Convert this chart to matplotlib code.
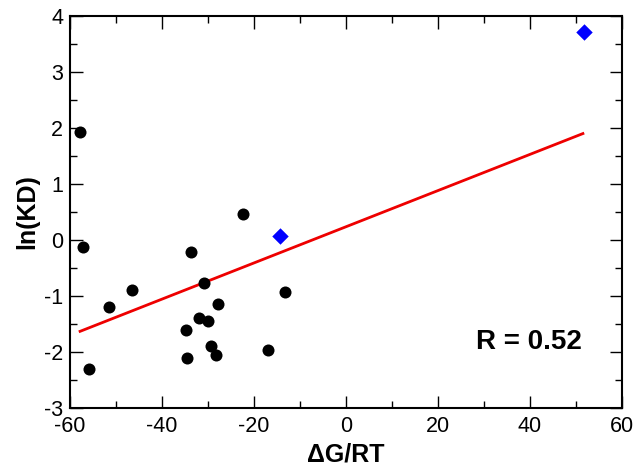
import matplotlib
matplotlib.use("Agg")
import matplotlib.pyplot as plt
from matplotlib.ticker import MultipleLocator

plt.rcParams['font.family'] = ['Liberation Sans', 'DejaVu Sans']
plt.rcParams['axes.unicode_minus'] = False

# black circles
circ_x = [-57.8, -57.2, -55.9, -51.5, -46.5, -33.7, -30.9, -34.8, -34.6, -32.0, -30.0, -27.8, -29.3, -28.3, -22.4, -17.0, -13.3]
circ_y = [1.92, -0.12, -2.3, -1.2, -0.9, -0.22, -0.77, -1.6, -2.1, -1.4, -1.45, -1.15, -1.9, -2.05, 0.47, -1.97, -0.92]
# blue diamonds
dia_x = [-14.3, 51.7]
dia_y = [0.07, 3.72]
# fit line
line_x = [-57.8, 51.5]
line_y = [-1.63, 1.9]

fig = plt.figure(figsize=(6.36, 4.68), dpi=100)
ax = fig.add_axes([0.110, 0.128, 0.868, 0.838])

ax.plot(line_x, line_y, color='#ee0000', lw=2, zorder=2)
ax.scatter(circ_x, circ_y, s=75, color='black', zorder=3, linewidths=0)
ax.scatter(dia_x, dia_y, s=70, marker='D', color='#0000ff', zorder=3, linewidths=0)

ax.set_xlim(-60, 60)
ax.set_ylim(-3, 4)
ax.xaxis.set_major_locator(MultipleLocator(20))
ax.xaxis.set_minor_locator(MultipleLocator(10))
ax.yaxis.set_major_locator(MultipleLocator(1))
ax.yaxis.set_minor_locator(MultipleLocator(0.5))
ax.tick_params(which='both', direction='in', top=True, right=True, labelsize=15.5, width=1.0)
ax.tick_params(which='major', length=9)
ax.tick_params(which='minor', length=5)
ax.tick_params(axis='x', pad=6)
ax.tick_params(axis='y', pad=5)
for s in ax.spines.values():
    s.set_linewidth(1.5)

ax.set_xlabel('ΔG/RT', fontsize=18, fontweight='bold', labelpad=4)
ax.set_ylabel('ln(KD)', fontsize=18, fontweight='bold', labelpad=3)
ax.text(0.928, 0.168, 'R = 0.52', transform=ax.transAxes, fontsize=20, fontweight='bold', ha='right', va='center')

fig.savefig('out.png', dpi=100)
